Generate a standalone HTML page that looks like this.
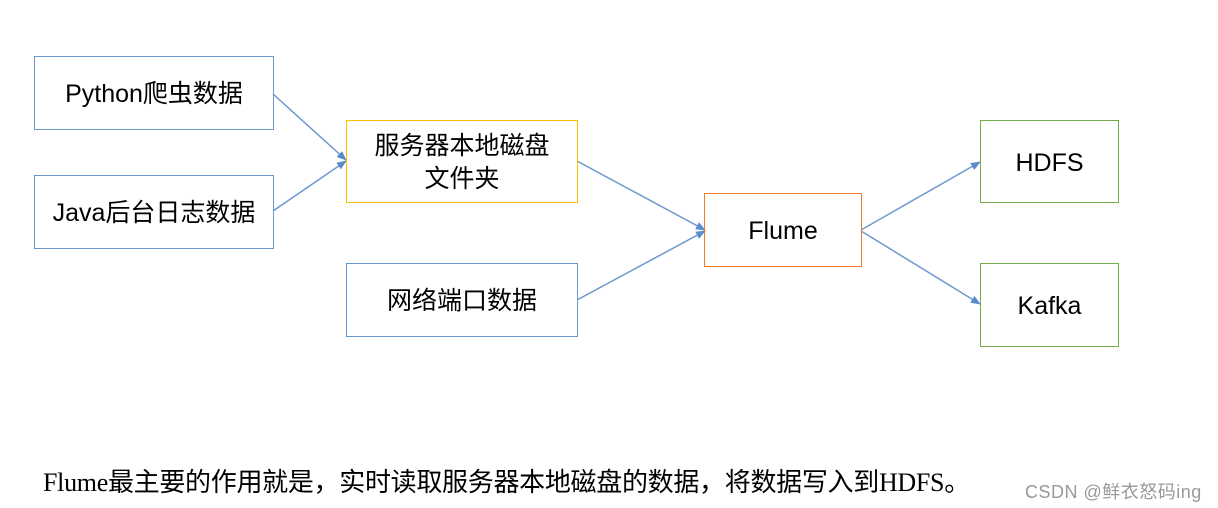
<!DOCTYPE html>
<html><head><meta charset="utf-8"><style>
body{margin:0;width:1218px;height:508px;background:#fff;position:relative;overflow:hidden;font-family:"Liberation Sans","Noto Sans CJK SC",sans-serif}
.b{position:absolute;box-sizing:border-box;border:1.5px solid #6C97CF;display:flex;align-items:center;justify-content:center;text-align:center;font-size:25px;line-height:33px;color:#000;padding-top:3px}
</style></head><body>
<svg width="1218" height="508" style="position:absolute;left:0;top:0">
<defs><marker id="a" markerWidth="10" markerHeight="8" refX="9" refY="4" orient="auto" markerUnits="userSpaceOnUse"><path d="M0,0 L10,4 L0,8 Z" fill="#5B8BCB"/></marker></defs>
<g stroke="#6C97CF" stroke-width="1.5" fill="none" marker-end="url(#a)">
<line x1="273" y1="94" x2="346" y2="160"/>
<line x1="273" y1="211" x2="346" y2="161"/>
<line x1="577" y1="161" x2="705" y2="230"/>
<line x1="577" y1="300" x2="705" y2="231"/>
<line x1="861" y1="230" x2="980" y2="162"/>
<line x1="861" y1="231" x2="980" y2="304"/>
</g></svg>
<div class="b" style="left:34px;top:56px;width:240px;height:74px">Python爬虫数据</div>
<div class="b" style="left:34px;top:175px;width:240px;height:74px">Java后台日志数据</div>
<div class="b" style="left:346px;top:120px;width:232px;height:83px;border-color:#FFC000">服务器本地磁盘<br>文件夹</div>
<div class="b" style="left:346px;top:263px;width:232px;height:74px">网络端口数据</div>
<div class="b" style="left:704px;top:193px;width:158px;height:74px;border-color:#ED7D31">Flume</div>
<div class="b" style="left:980px;top:120px;width:139px;height:83px;border-color:#70AD47">HDFS</div>
<div class="b" style="left:980px;top:263px;width:139px;height:84px;border-color:#70AD47">Kafka</div>
<div style="position:absolute;left:43px;top:466px;font-family:'Liberation Serif','Noto Sans CJK SC',serif;font-size:26px;line-height:34px;color:#000;white-space:nowrap;letter-spacing:-0.3px">Flume最主要的作用就是，实时读取服务器本地磁盘的数据，将数据写入到HDFS。</div>
<div style="position:absolute;left:1025px;top:478px;font-size:18px;color:#999;white-space:nowrap;letter-spacing:0.5px">CSDN @鲜衣怒码ing</div>
</body></html>
